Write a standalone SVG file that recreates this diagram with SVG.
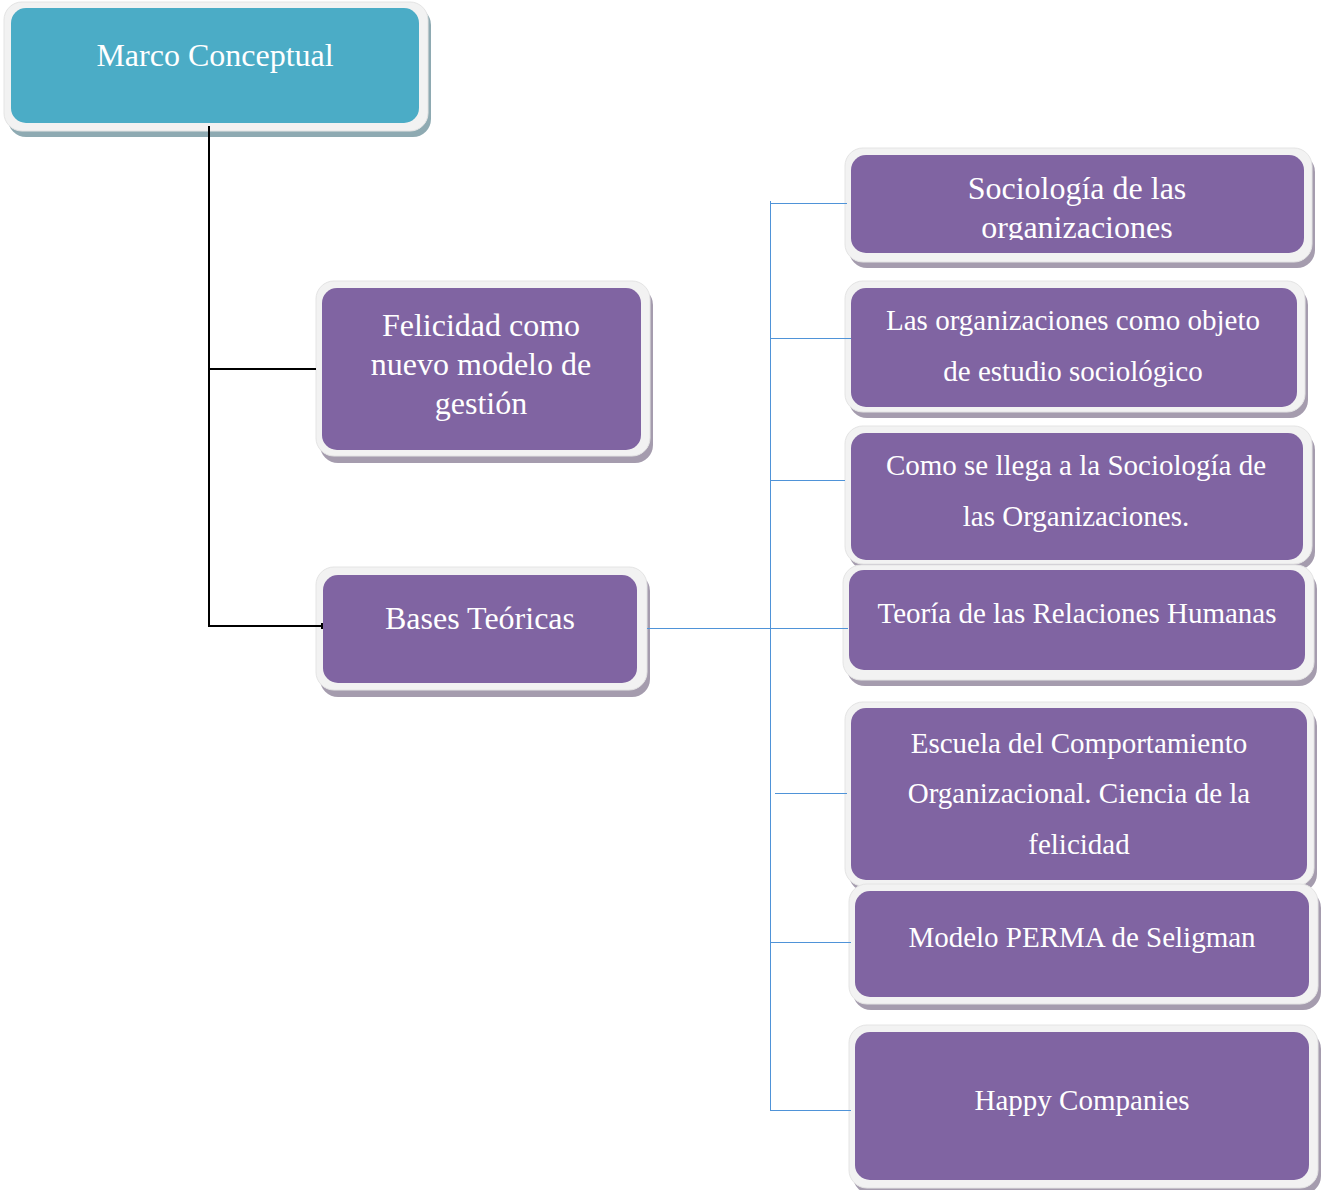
<svg xmlns="http://www.w3.org/2000/svg" width="1325" height="1190" viewBox="0 0 1325 1190">
<style>
.outer{fill:#f2f2f2;stroke:#e4e4e4;stroke-width:1}
.shp{fill:#a59cae}
.sht{fill:#8eaab2}
.pur{fill:#8064a2}
.teal{fill:#4bacc6}
.t32{font-family:"Liberation Serif","Times New Roman",serif;font-size:32px;fill:#ffffff;text-anchor:middle}
.t29{font-family:"Liberation Serif","Times New Roman",serif;font-size:29px;fill:#ffffff;text-anchor:middle}
.blk{stroke:#000000;stroke-width:2;fill:none}
.blu{stroke:#4f93d8;stroke-width:1;fill:none}
</style>
<defs>
<clipPath id="clipSoc"><rect x="851" y="155" width="453" height="85"/></clipPath>
</defs>
<rect width="1325" height="1190" fill="#ffffff"/>
<g id="marco">
<rect class="sht" x="8" y="7" width="423" height="130" rx="18"/>
<rect class="outer" x="4" y="2" width="424" height="129" rx="18"/>
<rect class="teal" x="11" y="8" width="408" height="115" rx="15"/>
<text class="t32" x="215" y="66">Marco Conceptual</text>
</g>
<g id="felicidad">
<rect class="shp" x="320" y="287" width="333" height="176" rx="18"/>
<rect class="outer" x="316" y="281" width="334" height="175" rx="18"/>
<rect class="pur" x="322" y="288" width="319" height="162" rx="15"/>
<text class="t32" x="481" y="336">Felicidad como</text>
<text class="t32" x="481" y="375">nuevo modelo de</text>
<text class="t32" x="481" y="414">gestión</text>
</g>
<g id="bases">
<rect class="shp" x="320" y="573" width="330" height="124" rx="18"/>
<rect class="outer" x="316" y="567" width="331" height="123" rx="18"/>
<rect class="pur" x="323" y="575" width="314" height="108" rx="15"/>
<text class="t32" x="480" y="629">Bases Teóricas</text>
</g>
<g id="sociologia">
<rect class="shp" x="849" y="154" width="466" height="114" rx="18"/>
<rect class="outer" x="845" y="148" width="467" height="114" rx="18"/>
<rect class="pur" x="851" y="155" width="453" height="98" rx="15"/>
<g clip-path="url(#clipSoc)">
<text class="t32" x="1077" y="199">Sociología de las</text>
<text class="t32" x="1077" y="238">organizaciones</text>
</g>
</g>
<g id="objeto">
<rect class="shp" x="849" y="287" width="459" height="131" rx="18"/>
<rect class="outer" x="845" y="281" width="460" height="131" rx="18"/>
<rect class="pur" x="851" y="288" width="446" height="119" rx="15"/>
<text class="t29" x="1073" y="330">Las organizaciones como objeto</text>
<text class="t29" x="1073" y="381">de estudio sociológico</text>
</g>
<g id="llega">
<rect class="shp" x="849" y="432" width="466" height="138" rx="18"/>
<rect class="outer" x="845" y="426" width="467" height="138" rx="18"/>
<rect class="pur" x="851" y="433" width="452" height="127" rx="15"/>
<text class="t29" x="1076" y="475">Como se llega a la Sociología de</text>
<text class="t29" x="1076" y="526">las Organizaciones.</text>
</g>
<g id="relaciones">
<rect class="shp" x="847" y="571" width="470" height="115" rx="18"/>
<rect class="outer" x="843" y="565" width="471" height="115" rx="18"/>
<rect class="pur" x="849" y="570" width="456" height="100" rx="15"/>
<text class="t29" x="1077" y="623">Teoría de las Relaciones Humanas</text>
</g>
<g id="escuela">
<rect class="shp" x="849" y="708" width="468" height="184" rx="18"/>
<rect class="outer" x="845" y="702" width="469" height="184" rx="18"/>
<rect class="pur" x="851" y="708" width="456" height="172" rx="15"/>
<text class="t29" x="1079" y="753">Escuela del Comportamiento</text>
<text class="t29" x="1079" y="803">Organizacional. Ciencia de la</text>
<text class="t29" x="1079" y="854">felicidad</text>
</g>
<g id="perma">
<rect class="shp" x="853" y="890" width="468" height="120" rx="18"/>
<rect class="outer" x="849" y="884" width="469" height="120" rx="18"/>
<rect class="pur" x="855" y="891" width="454" height="106" rx="15"/>
<text class="t29" x="1082" y="947">Modelo PERMA de Seligman</text>
</g>
<g id="happy">
<rect class="shp" x="853" y="1031" width="468" height="163" rx="18"/>
<rect class="outer" x="849" y="1025" width="469" height="163" rx="18"/>
<rect class="pur" x="855" y="1032" width="454" height="148" rx="15"/>
<text class="t29" x="1082" y="1110">Happy Companies</text>
</g>
<g id="connectors">
<path class="blk" d="M209,126 V626 M208,369 H316 M208,626 H322 M322,623 V629"/>
<path class="blu" d="M770.5,201 V1110 M647,628.5 H848 M770,203.5 H847 M770,338.5 H851 M770,480.5 H845 M775,793.5 H847 M770,942.5 H851 M770,1110.5 H851"/>
</g>
</svg>
